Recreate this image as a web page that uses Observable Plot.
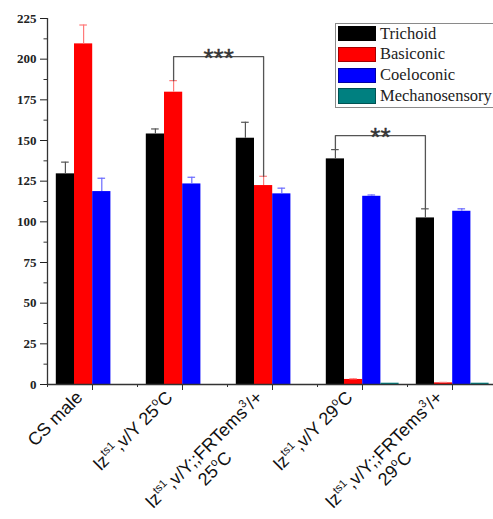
<!DOCTYPE html>
<html><head><meta charset="utf-8">
<script src="https://cdn.jsdelivr.net/npm/d3@7"></script>
<script src="https://cdn.jsdelivr.net/npm/@observablehq/plot@0.6"></script>
<style>
html,body{margin:0;padding:0;background:#fff;}
#wrap{position:relative;width:493px;height:519px;overflow:hidden;}
#legend{position:absolute;left:335px;top:23px;width:175px;height:85px;border:1.5px solid #8a8a8a;box-sizing:border-box;background:#fff;font-family:"Liberation Serif","Times New Roman",serif;font-size:16.5px;color:#222;}
.item{position:absolute;left:1.5px;height:15.5px;display:flex;align-items:center;white-space:nowrap;}
.sw{width:38px;height:15.5px;box-sizing:border-box;border:1px solid rgba(0,0,0,.35);margin-right:4.5px;}
</style></head><body><div id="wrap"></div>
<script>
// ---- data ----
const groups = [
  "CS male",
  "lz^{ts1},v/Y 25^{o}C",
  "lz^{ts1},v/Y;;FRTems^{3}/+\n25^{o}C",
  "lz^{ts1},v/Y 29^{o}C",
  "lz^{ts1},v/Y;;FRTems^{3}/+\n29^{o}C"
];
const seriesNames = ["Trichoid", "Basiconic", "Coeloconic", "Mechanosensory"];
const seriesColors = ["#000000", "#ff0000", "#0000ff", "#008080"];
const errColors = ["#555555", "#ff7a7a", "#6a6aff", "#008080"];

const trichoid       = [129.5, 154.0, 151.4, 138.7, 102.4];
const trichoidErr    = [7.2, 3.1, 9.8, 5.7, 5.6];
const basiconic      = [209.4, 179.7, 122.3, 3.1, 1.0];
const basiconicErr   = [11.6, 7.1, 5.7, 0.4, 0.3];
const coeloconic     = [118.6, 123.3, 117.2, 115.7, 106.5];
const coeloconicErr  = [8.2, 4.1, 3.5, 0.8, 1.5];
const mechanosensory = [0, 0, 0, 0.8, 0.8];
const mechanosensoryErr = [0, 0, 0, 0, 0];

const yTicks = [0, 25, 50, 75, 100, 125, 150, 175, 200, 225];
const yMinorTicks = [12.5, 37.5, 62.5, 87.5, 112.5, 137.5, 162.5, 187.5, 212.5];

// significance brackets
const sigFrom = [1, 3];
const sigTo = [2, 4];
const sigSeries = [1, 0];
const sigTop = [201.6, 153.0];
const sigText = ["***", "**"];

// ---- layout ----
const W = 493, H = 519;
const xRange = [47, 497];
const bandW = (xRange[1] - xRange[0]) / groups.length;
const barPad = 8.8, barW = 18.2;
const values = [trichoid, basiconic, coeloconic, mechanosensory];
const errs = [trichoidErr, basiconicErr, coeloconicErr, mechanosensoryErr];
const centerOff = j => barPad + barW * (j + 0.5) - bandW / 2;

const marks = [];
seriesNames.forEach((s, j) => {
  const d = groups.map((g, i) => ({group: g, value: values[j][i], err: errs[j][i]}));
  marks.push(Plot.barY(d, {x: "group", y: "value", fill: seriesColors[j],
    insetLeft: barPad + barW * j, insetRight: bandW - barPad - barW * (j + 1)}));
  const de = d.filter(r => r.err > 0);
  marks.push(Plot.ruleX(de, {x: "group", y1: "value", y2: r => r.value + r.err, dx: centerOff(j), stroke: errColors[j], strokeWidth: 1.2}));
  marks.push(Plot.tickY(de, {x: "group", y: r => r.value + r.err, dx: centerOff(j), stroke: errColors[j], strokeWidth: 1.2,
    insetLeft: bandW / 2 - 3.8, insetRight: bandW / 2 - 3.8}));
});

sigText.forEach((t, k) => {
  const s = sigSeries[k], a = groups[sigFrom[k]], b = groups[sigTo[k]];
  const pts = [
    {g: a, v: values[s][sigFrom[k]] + errs[s][sigFrom[k]]},
    {g: a, v: sigTop[k]},
    {g: b, v: sigTop[k]},
    {g: b, v: values[s][sigTo[k]] + errs[s][sigTo[k]]}
  ];
  marks.push(Plot.line(pts, {x: "g", y: "v", dx: centerOff(s), stroke: "#555", strokeWidth: 1.3}));
  marks.push(Plot.text([{g: b, v: sigTop[k]}], {x: "g", y: "v", text: () => t, dx: centerOff(s) - bandW / 2, dy: 10,
    fontSize: 26, fontFamily: "'Liberation Sans', Arial, sans-serif", fill: "#333", stroke: "#333", strokeWidth: 0.4,
    textAnchor: "middle", lineAnchor: "bottom"}));
});

// axes
marks.push(Plot.axisY({ticks: yTicks, tickSize: 7, tickPadding: 4, label: null, color: "#222",
  fontSize: 13, fontWeight: "bold", fontFamily: "'Liberation Serif', 'Times New Roman', serif"}));
marks.push(Plot.axisY({ticks: yMinorTicks, tickSize: 3.5, tickFormat: () => "", label: null, color: "#333"}));
marks.push(Plot.axisX({tickSize: 6, tickFormat: () => "", label: null, color: "#333"}));
marks.push(Plot.axisX({tickSize: 3, tickFormat: () => "", label: null, color: "#333", dx: -bandW / 2}));
marks.push(Plot.ruleY([0], {stroke: "#333", strokeWidth: 1.3}));
marks.push(Plot.ruleX([groups[0]], {y1: 0, y2: 225, dx: -bandW / 2, stroke: "#333", strokeWidth: 1.3}));

const chart = Plot.plot({
  width: W, height: H,
  marginLeft: 47, marginTop: 18, marginBottom: 135, marginRight: 0,
  x: {type: "band", domain: groups, range: xRange, padding: 0, axis: null},
  y: {domain: [0, 225], range: [384, 18], axis: null},
  style: {background: "#fff", overflow: "hidden"},
  marks
});
const wrap = document.getElementById("wrap");
wrap.appendChild(chart);

// ---- rotated x tick labels with superscripts ----
const fs = 18, lineH = 21;
function addRich(sel, str) {
  const parts = str.split(/(\^\{[^}]*\})/).filter(p => p.length);
  let raised = false;
  parts.forEach(p => {
    const m = p.match(/^\^\{([^}]*)\}$/);
    if (m) {
      sel.append("tspan").attr("font-size", fs * 0.62).attr("dy", -0.42 * fs).text(m[1]);
      raised = true;
    } else {
      const t = sel.append("tspan").text(p);
      if (raised) { t.attr("dy", 0.42 * fs); raised = false; }
    }
  });
}
const xs = chart.scale("x"), ys = chart.scale("y");
const y0 = ys.apply(0);
const lg = d3.select(chart).append("g")
  .attr("font-family", "'Liberation Sans', Arial, sans-serif")
  .attr("font-size", fs).attr("fill", "#111");
groups.forEach(label => {
  const cx = xs.apply(label) + xs.bandwidth / 2;
  const lines = label.split("\n");
  const tr = `translate(${cx - 8.3},${y0 + 14.5}) rotate(-45)`;
  const t1 = lg.append("text").attr("transform", tr).attr("text-anchor", "end");
  addRich(t1, lines[0]);
  if (lines[1]) {
    const w = t1.node().getComputedTextLength();
    const t2 = lg.append("text").attr("transform", tr).attr("text-anchor", "middle")
      .attr("x", -w / 2 - 6).attr("y", lineH);
    addRich(t2, lines[1]);
  }
});

// ---- legend ----
const legend = document.createElement("div");
legend.id = "legend";
const itemTops = [1.9, 22.7, 43.5, 64.3];
seriesNames.forEach((s, j) => {
  const it = document.createElement("div");
  it.className = "item";
  it.style.top = itemTops[j] + "px";
  const sw = document.createElement("div");
  sw.className = "sw";
  sw.style.background = seriesColors[j];
  it.appendChild(sw);
  it.appendChild(document.createTextNode(s));
  legend.appendChild(it);
});
wrap.appendChild(legend);
</script>
</body></html>
